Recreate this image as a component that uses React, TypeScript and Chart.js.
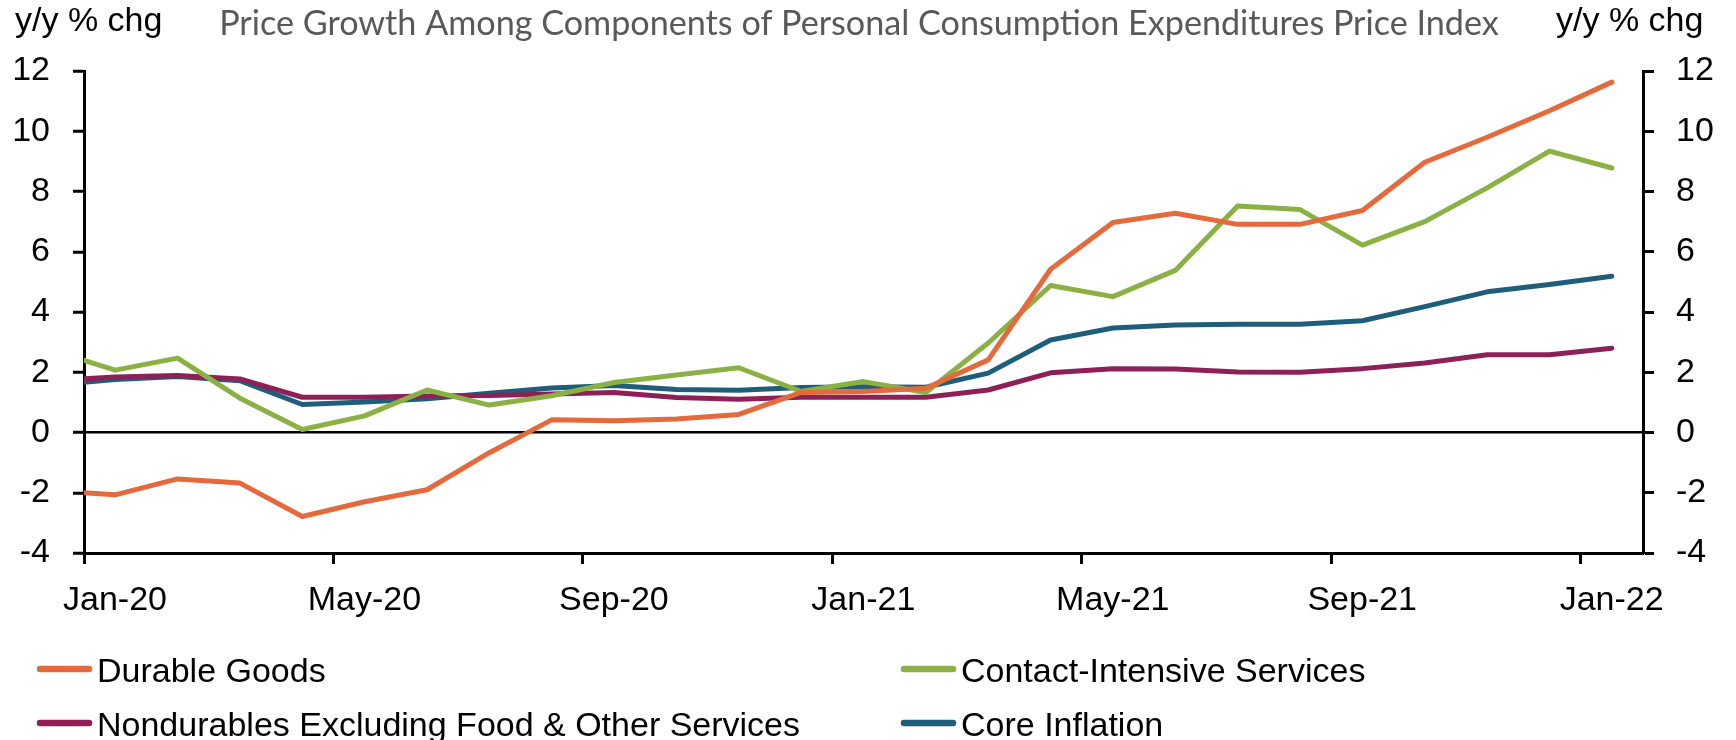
import React, { useEffect, useRef } from "react";
import { Chart, registerables } from "chart.js";

Chart.register(...registerables);

// Monthly observations (mid-month). Dec-19 is only partly visible (clipped at the axis).
const months = [
  "Dec-19", "Jan-20", "Feb-20", "Mar-20", "Apr-20", "May-20", "Jun-20", "Jul-20", "Aug-20",
  "Sep-20", "Oct-20", "Nov-20", "Dec-20", "Jan-21", "Feb-21", "Mar-21", "Apr-21", "May-21",
  "Jun-21", "Jul-21", "Aug-21", "Sep-21", "Oct-21", "Nov-21", "Dec-21", "Jan-22",
];

const durableGoods = [
  -1.93, -2.07, -1.54, -1.68, -2.79, -2.3, -1.9, -0.67, 0.42, 0.39, 0.45, 0.6, 1.33,
  1.36, 1.47, 2.41, 5.42, 6.97, 7.28, 6.91, 6.91, 7.37, 8.97, 9.8, 10.68, 11.63,
];

const contactIntensiveServices = [
  2.72, 2.07, 2.47, 1.14, 0.1, 0.55, 1.41, 0.91, 1.22, 1.66, 1.91, 2.15, 1.36,
  1.69, 1.33, 2.97, 4.88, 4.51, 5.38, 7.52, 7.4, 6.22, 7.0, 8.12, 9.34, 8.78,
];

const nondurablesOtherServices = [
  1.72, 1.84, 1.89, 1.78, 1.17, 1.17, 1.21, 1.23, 1.28, 1.33, 1.16, 1.1, 1.17,
  1.17, 1.17, 1.41, 1.98, 2.12, 2.11, 2.01, 2.0, 2.12, 2.31, 2.58, 2.58, 2.8,
];

const coreInflation = [
  1.58, 1.76, 1.86, 1.72, 0.93, 1.01, 1.12, 1.3, 1.48, 1.56, 1.43, 1.4, 1.49,
  1.52, 1.5, 1.97, 3.07, 3.47, 3.57, 3.59, 3.59, 3.71, 4.18, 4.67, 4.91, 5.19,
];

const seriesNames = [
  "Durable Goods",
  "Contact-Intensive Services",
  "Nondurables Excluding Food & Other Services",
  "Core Inflation",
];

const xTickLabels = ["Jan-20", "May-20", "Sep-20", "Jan-21", "May-21", "Sep-21", "Jan-22"];
const yTickValues = [-4, -2, 0, 2, 4, 6, 8, 10, 12];

const titleText = "Price Growth Among Components of Personal Consumption Expenditures Price Index";
const axisUnitText = "y/y % chg";

const colors = ["#E4693C", "#8BB043", "#8E2058", "#1F5E7A"];

export default function App() {
  const canvasRef = useRef<HTMLCanvasElement | null>(null);

  useEffect(() => {
    if (!canvasRef.current) return;
    const series = [durableGoods, contactIntensiveServices, nondurablesOtherServices, coreInflation];
    // month index -> x position (0 = start of Jan-20, each point sits mid-month)
    const toPoints = (arr: number[]) => arr.map((v, i) => ({ x: i - 0.5, y: v }));
    const fontFamily = "'Liberation Sans', Arial, sans-serif";
    const tickFont = { family: fontFamily, size: 34 };

    const textPlugin = {
      id: "extraTexts",
      afterDraw(chart: any) {
        const ctx = chart.ctx as CanvasRenderingContext2D;
        ctx.save();
        // Title (fitted to the reference width)
        ctx.fillStyle = "#595959";
        ctx.textAlign = "center";
        ctx.textBaseline = "alphabetic";
        let size = 30;
        ctx.font = `${size}px Lato, 'Open Sans', sans-serif`;
        const w = ctx.measureText(titleText).width;
        size = (size * 1280) / w;
        ctx.font = `${size}px Lato, 'Open Sans', sans-serif`;
        ctx.fillText(titleText, 859, 35);

        // Axis unit labels
        ctx.fillStyle = "#000";
        ctx.textAlign = "left";
        ctx.font = `34px ${fontFamily}`;
        ctx.fillText(axisUnitText, 15, 31);
        ctx.fillText(axisUnitText, 1556, 31);

        // Legend (2 x 2 grid)
        const cols = [37, 901];
        const rows = [669, 723];
        seriesNames.forEach((name, i) => {
          const cx = cols[i % 2];
          const cy = rows[Math.floor(i / 2)];
          ctx.strokeStyle = colors[i];
          ctx.lineWidth = 6.5;
          ctx.lineCap = "round";
          ctx.beginPath();
          ctx.moveTo(cx + 3, cy);
          ctx.lineTo(cx + 52, cy);
          ctx.stroke();
          ctx.fillStyle = "#000";
          ctx.font = `34px ${fontFamily}`;
          ctx.fillText(name, cx + 60, cy + 13);
        });
        ctx.restore();
      },
    };

    const chart = new Chart(canvasRef.current, {
      type: "line",
      data: {
        datasets: series.map((arr, i) => ({
          label: seriesNames[i],
          data: toPoints(arr),
          borderColor: colors[i],
          backgroundColor: colors[i],
          borderWidth: 5,
          pointRadius: 0,
          tension: 0,
          borderJoinStyle: "round" as const,
          borderCapStyle: "round" as const,
          clip: 0,
          yAxisID: "y",
        })),
      },
      options: {
        responsive: false,
        animation: false,
        layout: { padding: { top: 71, left: 0, right: 0, bottom: 0 } },
        plugins: {
          legend: { display: false },
          tooltip: { enabled: false },
          title: { display: false },
        },
        scales: {
          x: {
            type: "linear",
            min: 0,
            max: 25,
            afterBuildTicks: (s: any) => {
              s.ticks = xTickLabels.map((_, i) => ({ value: i * 4 }));
            },
            afterFit: (s: any) => {
              s.height = 187;
            },
            grid: {
              drawOnChartArea: false,
              drawTicks: true,
              tickLength: 11,
              tickColor: "#000",
              tickWidth: 3,
            },
            border: { display: true, color: "#000", width: 3 },
            ticks: {
              autoSkip: false,
              maxRotation: 0,
              labelOffset: 31,
              padding: 16,
              color: "#000",
              font: tickFont,
              callback: (v: any) => xTickLabels[Math.round(Number(v) / 4)] ?? "",
            },
          },
          y: {
            position: "left",
            min: -4,
            max: 12,
            afterBuildTicks: (s: any) => {
              s.ticks = yTickValues.map((v) => ({ value: v }));
            },
            afterFit: (s: any) => {
              s.width = 84;
            },
            grid: {
              color: (c: any) => (c.tick && c.tick.value === 0 ? "#000" : "rgba(0,0,0,0)"),
              lineWidth: 2.5,
              drawTicks: true,
              tickLength: 11,
              tickColor: "#000",
              tickWidth: 3,
            },
            border: { display: true, color: "#000", width: 3 },
            ticks: { padding: 23, color: "#000", font: tickFont },
          },
          y2: {
            position: "right",
            min: -4,
            max: 12,
            afterBuildTicks: (s: any) => {
              s.ticks = yTickValues.map((v) => ({ value: v }));
            },
            afterFit: (s: any) => {
              s.width = 93;
            },
            grid: {
              drawOnChartArea: false,
              drawTicks: true,
              tickLength: 11,
              tickColor: "#000",
              tickWidth: 3,
            },
            border: { display: true, color: "#000", width: 3 },
            ticks: { padding: 22, color: "#000", font: tickFont },
          },
        },
      },
      plugins: [textPlugin],
    } as any);

    return () => chart.destroy();
  }, []);

  return (
    <div style={{ position: "absolute", left: 0, top: 0, width: 1736, height: 740, background: "#fff" }}>
      <canvas ref={canvasRef} width={1736} height={740} style={{ display: "block" }} />
    </div>
  );
}
